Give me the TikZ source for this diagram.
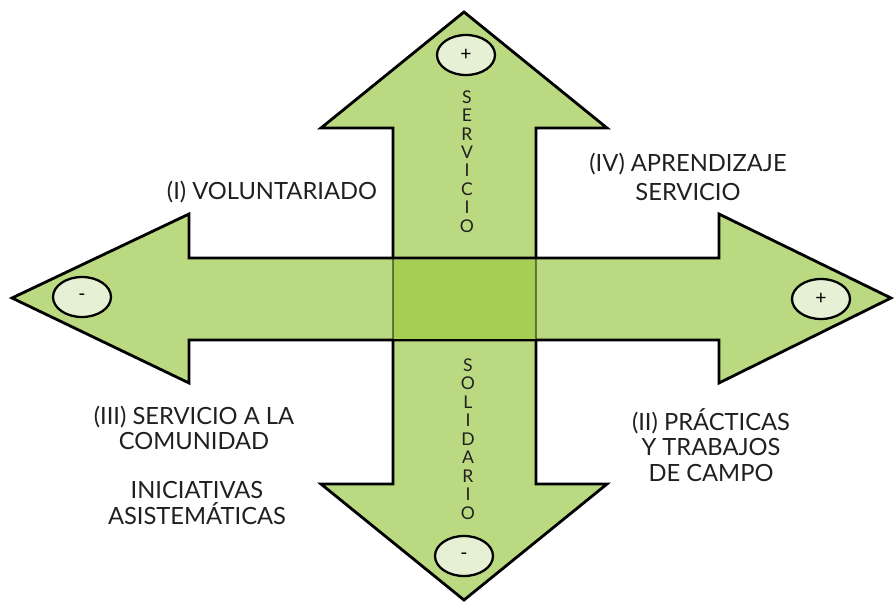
\documentclass[tikz,border=0pt]{standalone}
\usepackage{fontspec}
\setmainfont{Lato}
\usetikzlibrary{shapes.geometric}
\definecolor{arrowgreen}{HTML}{BAD981}
\definecolor{crossgreen}{HTML}{A5CE53}
\definecolor{signgreen}{HTML}{E6F0D4}
\definecolor{textgray}{HTML}{231F20}
\begin{document}
\begin{tikzpicture}[x=0.02cm,y=-0.02cm]
        \tikzstyle{arrow} = [fill=arrowgreen, draw=black, line width=1.6pt, line join=miter]
        \tikzstyle{sign} = [ellipse, draw=black, line width=1.3pt, fill=signgreen, minimum width=1.16cm, minimum height=0.8cm, inner sep=0pt, font=\fontsize{11}{12}\selectfont]
        \tikzstyle{quadrant} = [align=center, text=textgray, font=\fontsize{13.5}{14.4}\selectfont]
        \tikzstyle{letter} = [text=textgray, inner sep=0pt, font=\fontsize{10}{12}\selectfont]

        \useasboundingbox (0,0) rectangle (894,603);

		\draw[arrow] (464,12) -- (607,128) -- (536,128) -- (536,484) -- (607,484) -- (464,600) -- (321,484) -- (393,484) -- (393,128) -- (321,128) -- cycle;
		\draw[arrow] (12,298) -- (189,214) -- (189,258) -- (719,258) -- (719,214) -- (891,298) -- (719,383) -- (719,340) -- (189,340) -- (189,383) -- cycle;
		\fill[crossgreen] (393,259.5) rectangle (536,338.5);
		\draw[line width=1.6pt, draw opacity=0.45] (393,258) -- (393,340);
		\draw[line width=1.6pt, draw opacity=0.45] (536,258) -- (536,340);

		\node[sign] (top) at (466,55) {+};
		\node[sign] (bottom) at (464,556) {-};
		\node[sign] (left) at (82,297) {-};
		\node[sign] (right) at (821,299) {+};

		\foreach \l [count=\i] in {S,E,R,V,I,C,I,O}
			\node[letter] (srv\i) at (467,{97+(\i-1)*18.4}) {\l};
		\foreach \l [count=\i] in {S,O,L,I,D,A,R,I,O}
			\node[letter] (sol\i) at (468,{365+(\i-1)*18.5}) {\l};

		\node[quadrant] (voluntariado) at (272,192) {(I) VOLUNTARIADO};
		\node[quadrant, font=\fontsize{13.5}{16.4}\selectfont] (aprendizaje) at (688,177) {(IV) APRENDIZAJE\\SERVICIO};
		\node[quadrant] (comunidad) at (194,428) {(III) SERVICIO A LA\\COMUNIDAD};
		\node[quadrant, font=\fontsize{13.5}{15.3}\selectfont] (iniciativas) at (197,503) {INICIATIVAS\\ASISTEMÁTICAS};
		\node[quadrant] (practicas) at (711,445) {(II) PRÁCTICAS\\Y TRABAJOS\\DE CAMPO};

    \end{tikzpicture}
\end{document}
